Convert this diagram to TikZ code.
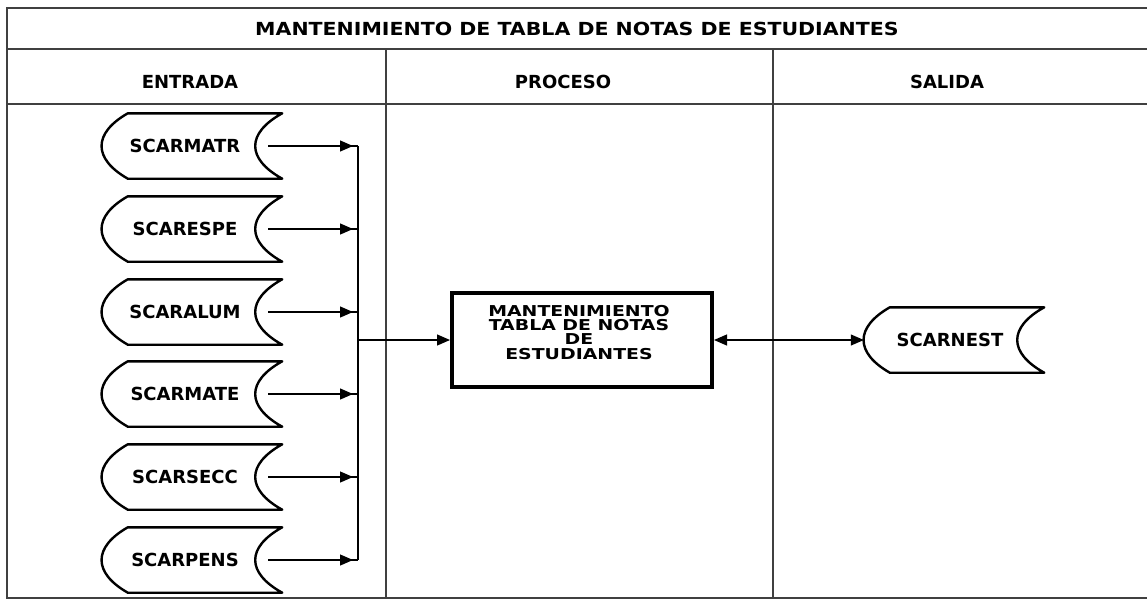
\documentclass[tikz,border=0pt]{standalone}
\usepackage{fontspec}
\setmainfont{DejaVu Sans}
\newfontfamily\widefont[FakeStretch=1.14]{DejaVu Sans}
\newfontfamily\procfont[FakeStretch=1.26]{DejaVu Sans}
\usetikzlibrary{arrows.meta,calc,decorations.markings}
\tikzset{
  frame/.style={draw=black!75, line width=1.4pt},
  shapeline/.style={draw=black, line width=2.4pt, line join=round},
  lbl/.style={font=\fontsize{18}{20}\selectfont\bfseries, inner sep=0pt},
  store/.style={font=\fontsize{18}{20}\selectfont\bfseries, inner sep=0pt, minimum width=180pt, minimum height=65pt},
  procbox/.style={draw=black, line width=4pt, minimum width=260pt, minimum height=94pt, inner sep=0pt},
  conn/.style={draw=black, line width=1.2pt},
  busarrow/.style={conn, postaction={decorate}, decoration={markings, mark=at position -5pt with {\arrow{Triangle[length=13pt,width=11pt]}}}}
}
\newcommand\storeshape[1]{%
  \draw[shapeline] ($(#1.north west)+(26,0)$) .. controls ($(#1.north west)+(-9,20)$) and ($(#1.south west)+(-9,-20)$) .. ($(#1.south west)+(26,0)$)
   -- (#1.south east) .. controls ($(#1.south east)+(-36,-20)$) and ($(#1.north east)+(-36,20)$) .. (#1.north east) -- cycle;}
\begin{document}
\begin{tikzpicture}[x=1pt,y=-1pt]
\clip (0,0) rectangle (1147,600);
\useasboundingbox (0,0) rectangle (1147,600);
% frame
\draw[frame] (1150,8) -- (7,8) -- (7,598) -- (1150,598);
\draw[frame] (7,49) -- (1150,49);
\draw[frame] (7,104) -- (1150,104);
\draw[frame] (386,49) -- (386,598);
\draw[frame] (773,49) -- (773,598);
% headers
\node[inner sep=0pt, font=\widefont\fontsize{18}{20}\selectfont\bfseries] (title) at (577,29) {MANTENIMIENTO DE TABLA DE NOTAS DE ESTUDIANTES};
\node[lbl] (hin) at (190,82) {ENTRADA};
\node[lbl] (hpr) at (563,82) {PROCESO};
\node[lbl] (hout) at (947,82) {SALIDA};
% entries
\foreach \n/\t/\y in {m1/SCARMATR/146, m2/SCARESPE/229, m3/SCARALUM/312, m4/SCARMATE/394, m5/SCARSECC/477, m6/SCARPENS/560}{
  \node[store] (\n) at (192,\y) {\hspace*{-14pt}\t};
  \storeshape{\n}
  \coordinate (b\n) at (358,\y);
  \draw[busarrow] ($(\n.east)+(-14,0)$) -- (b\n);
}
\draw[conn] (bm1) -- (bm6);
% process
\node[procbox] (proc) at (582,340) {};
\node[inner sep=0pt, align=center, font=\procfont\fontsize{15}{14}\selectfont\bfseries] (ptext) at (579,333) {MANTENIMIENTO\\TABLA DE NOTAS\\DE\\[1pt]ESTUDIANTES};
\coordinate (bj) at (358,340);
\draw[conn, -{Triangle[length=13pt,width=11pt]}] (bj) -- (proc.west);
% output
\node[store] (out) at (954,340) {\hspace*{-8pt}SCARNEST};
\storeshape{out}
\draw[conn, {Triangle[length=13pt,width=11pt]}-{Triangle[length=13pt,width=11pt]}] (proc.east) -- (out.west);
\end{tikzpicture}
\end{document}
